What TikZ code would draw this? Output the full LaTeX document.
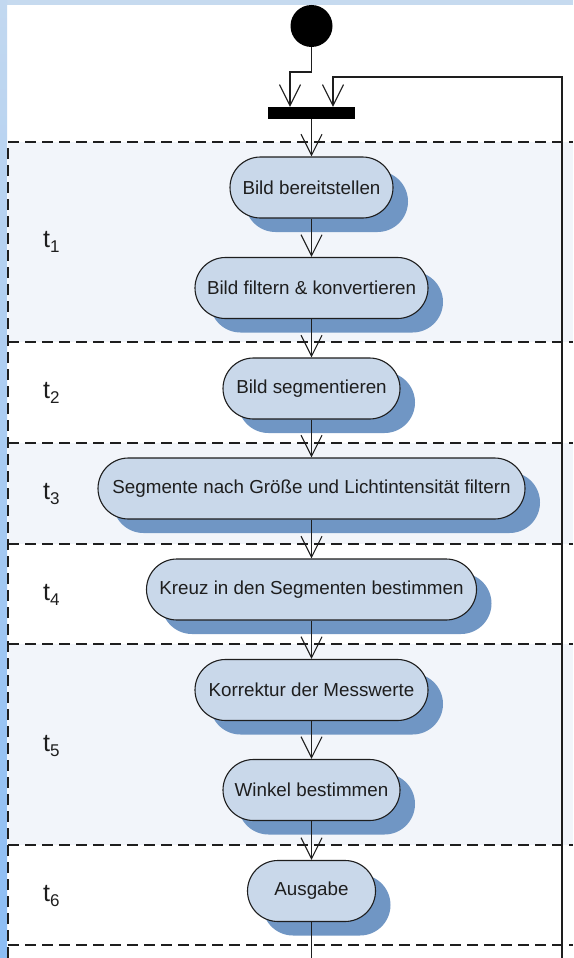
\documentclass[tikz,border=0pt]{standalone}
\usepackage{fontspec}
\setmainfont{Liberation Sans}
\usetikzlibrary{arrows.meta,shapes.misc,shadows}
\definecolor{bandtop}{HTML}{C6DAEF}
\definecolor{bandleftA}{HTML}{C2D8F0}
\definecolor{bandleftB}{HTML}{8CBDF4}
\definecolor{lanefill}{HTML}{F2F5FA}
\definecolor{nodefill}{HTML}{C9D8EA}
\definecolor{shadowblue}{HTML}{7096C4}
\definecolor{inkcol}{HTML}{1E1E1E}
\newcommand\lanesub[1]{\raisebox{-5pt}{\fontsize{17}{20}\selectfont #1}}
\tikzset{
  act/.style={rounded rectangle, draw=inkcol, line width=1.1pt, fill=nodefill,
    inner sep=0pt, minimum height=61pt, text=inkcol,
    font=\fontsize{18.8}{22}\selectfont,
    drop shadow={shadow xshift=15pt, shadow yshift=-14pt, fill=shadowblue, opacity=1}},
  flow/.style={draw=inkcol, line width=1.1pt, -{Straight Barb[length=21pt,width=21pt]}},
  plainline/.style={draw=inkcol, line width=1.1pt},
  lanedash/.style={draw=inkcol, line width=1.5pt, dash pattern=on 11pt off 6pt},
  lanelabel/.style={anchor=west, inner sep=0pt, text=inkcol, font=\fontsize{25}{28}\selectfont}
}
\begin{document}
\begin{tikzpicture}[x=1pt,y=-1pt]
\useasboundingbox (0,0) rectangle (573,958);
% background
\fill[white] (0,0) rectangle (573,958);
\fill[bandtop] (0,0) rectangle (573,5);
\shade[top color=bandleftA, bottom color=bandleftB] (0,0) rectangle (7,958);
% lanes
\fill[lanefill] (8,142) rectangle (573,342);
\fill[lanefill] (8,443) rectangle (573,544);
\fill[lanefill] (8,644) rectangle (573,845);
\draw[lanedash] (8,958) -- (8,142) -- (573,142);
\draw[lanedash] (8,342) -- (573,342);
\draw[lanedash] (8,443) -- (573,443);
\draw[lanedash] (8,544) -- (573,544);
\draw[lanedash] (8,644) -- (573,644);
\draw[lanedash] (8,845) -- (573,845);
\draw[lanedash] (8,945) -- (573,945);
% lane labels
\node[lanelabel] (L1) at (43,242) {t\lanesub{1}};
\node[lanelabel] (L2) at (43,393) {t\lanesub{2}};
\node[lanelabel] (L3) at (43,494) {t\lanesub{3}};
\node[lanelabel] (L4) at (43,595) {t\lanesub{4}};
\node[lanelabel] (L5) at (43,746) {t\lanesub{5}};
\node[lanelabel] (L6) at (43,896) {t\lanesub{6}};
% start and fork bar
\node[circle, fill=black, minimum size=42pt, inner sep=0pt] (start) at (311.5,26) {};
\node[rectangle, fill=black, minimum width=87pt, minimum height=12pt, inner sep=0pt] (bar) at (311.5,113) {};
% activities
\node[act, minimum width=163pt] (n1) at (311.5,187.5) {Bild bereitstellen};
\node[act, minimum width=233pt] (n2) at (311.5,288) {Bild filtern \& konvertieren};
\node[act, minimum width=177pt] (n3) at (311.5,388.5) {Bild segmentieren};
\node[act, minimum width=427pt] (n4) at (311.5,488.5) {Segmente nach Größe und Lichtintensität filtern};
\node[act, minimum width=330pt] (n5) at (311.5,589.5) {Kreuz in den Segmenten bestimmen};
\node[act, minimum width=233pt] (n6) at (311.5,690) {Korrektur der Messwerte};
\node[act, minimum width=177pt] (n7) at (311.5,790) {Winkel bestimmen};
\node[act, minimum width=128pt] (n8) at (311.5,891) {Ausgabe};
% connectors
\coordinate (j1) at (290,72);
\coordinate (fbB) at (562,958);
\coordinate (fbT) at (333,77);
\coordinate (endB) at (311.5,958);
\draw[flow] (start.south) |- (j1) -- (j1 |- bar.north);
\draw[flow] (fbB) |- (fbT) -- (fbT |- bar.north);
\draw[flow] (bar.south) -- (n1.north);
\draw[flow] (n1.south) -- (n2.north);
\draw[flow] (n2.south) -- (n3.north);
\draw[flow] (n3.south) -- (n4.north);
\draw[flow] (n4.south) -- (n5.north);
\draw[flow] (n5.south) -- (n6.north);
\draw[flow] (n6.south) -- (n7.north);
\draw[flow] (n7.south) -- (n8.north);
\draw[plainline] (n8.south) -- (endB);
\end{tikzpicture}
\end{document}
